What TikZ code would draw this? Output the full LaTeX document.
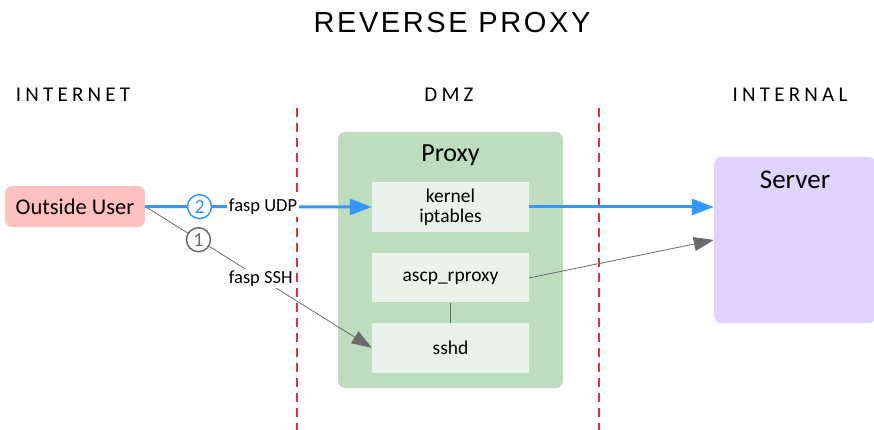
\documentclass[tikz,border=0pt]{standalone}
\usepackage{fontspec}
\setmainfont{Carlito}
\newfontfamily\titlefont[LetterSpace=9]{Liberation Sans}
\newfontfamily\zonefont[LetterSpace=20]{Carlito}
\usetikzlibrary{arrows.meta,positioning}
\definecolor{ProxyG}{HTML}{BEDDBE}
\definecolor{PartG}{HTML}{E9F3E9}
\definecolor{UserR}{HTML}{FFC0C0}
\definecolor{ServerV}{HTML}{E0D4FF}
\definecolor{Flow}{HTML}{3397FF}
\definecolor{Ctrl}{HTML}{6A6A6A}
\definecolor{Border}{HTML}{E0303C}

\begin{document}
\begin{tikzpicture}[
  x=1pt, y=-1pt,
  zone/.style={font=\zonefont\fontsize{21}{21}\selectfont, anchor=base, inner sep=0pt},
  host/.style={rounded corners=7pt, fill=#1, inner sep=0pt},
  part/.style={fill=PartG, minimum width=157pt, minimum height=50pt, align=center,
    font=\fontsize{19.5}{20}\selectfont},
  head/.style={anchor=north, inner sep=0pt, font=\fontsize{26}{26}\selectfont},
  tag/.style={fill=white, inner sep=2pt, font=\fontsize{18.5}{19}\selectfont, text=black},
  num/.style={circle, draw=#1, fill=white, line width=1.5pt, minimum size=24pt, inner sep=0pt,
    text=#1, font=\fontsize{20}{20}\selectfont},
  flow/.style={draw=Flow, line width=3pt, -{Triangle[length=22pt, width=16pt]}},
  ctrl/.style={draw=Ctrl, line width=0.8pt, -{Triangle[length=20pt, width=14pt]}},
  border/.style={color=Border, line width=1.3pt, dash pattern=on 9pt off 6pt}
]
  \clip (0,0) rectangle (874,430);

  % title and zones
  \node[anchor=base, inner sep=0pt, font=\titlefont\fontsize{29}{29}\selectfont] (title) at (452,33) {REVERSE PROXY};
  \node[zone] (inet) at (73,102) {INTERNET};
  \node[zone] (dmz) at (449,102) {DMZ};
  \node[zone] (intl) at (790,102) {INTERNAL};
  \foreach \x in {297,599}
    \draw[border] (\x,108) -- (\x,430);

  % hosts
  \node[host=UserR, minimum width=140pt, minimum height=41pt,
    font=\fontsize{22.5}{23}\selectfont] (user) at (75,206.5) {Outside User};
  \node[host=ProxyG, minimum width=225pt, minimum height=256pt,
    label={[head, yshift=-13pt]north:Proxy}] (proxy) at (450.5,260) {};
  \node[host=ServerV, minimum width=162pt, minimum height=166pt,
    label={[head, yshift=-14pt, font=\fontsize{27}{27}\selectfont]north:Server}] (server) at (795,240) {};

  % proxy parts
  \node[part] (kernel) at (450.5,207) {kernel\\iptables};
  \node[part, minimum height=49pt, below=21pt of kernel] (rproxy) {ascp\_rproxy};
  \node[part, below=20pt of rproxy] (sshd) {sshd};

  % connections
  \draw[ctrl] (user.east) -- node[num=Ctrl, pos=0.235]{1} node[tag, pos=0.51]{fasp SSH} (sshd.west);
  \draw[flow] (user.east) -- node[num=Flow, pos=0.24]{2} node[tag, pos=0.52]{fasp UDP} (kernel.west);
  \draw[flow] (kernel.east) -- (kernel.east -| server.west);
  \draw[ctrl] (rproxy.east) -- (server.west);
  \draw[draw=Ctrl, line width=0.8pt] (rproxy.south) -- (sshd.north);
\end{tikzpicture}
\end{document}
